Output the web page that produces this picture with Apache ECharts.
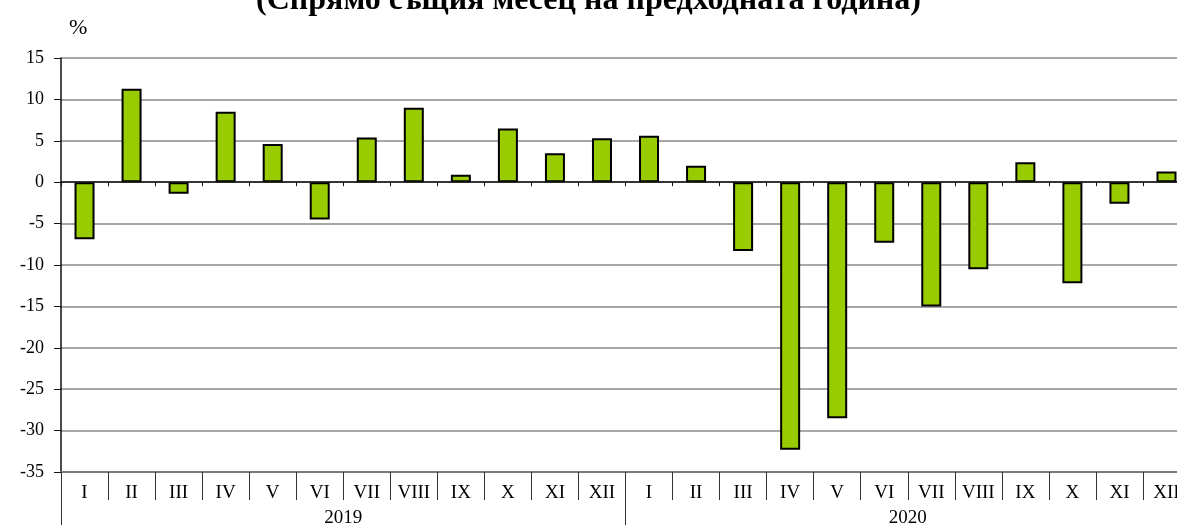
<!DOCTYPE html>
<html>
<head>
<meta charset="utf-8">
<script src="https://cdn.jsdelivr.net/npm/echarts@6/dist/echarts.min.js"></script>
<style>
html,body{margin:0;padding:0;background:#fff;}
#chart{width:1177px;height:525px;}
</style>
</head>
<body>
<div id="chart"></div>
<script>
const titleText = '(Спрямо същия месец на предходната година)';
const unitLabel = '%';
const categories = ['I','II','III','IV','V','VI','VII','VIII','IX','X','XI','XII',
                    'I','II','III','IV','V','VI','VII','VIII','IX','X','XI','XII'];
const years = ['2019', '2020'];
const values2019 = [-6.9, 11.3, -1.4, 8.5, 4.6, -4.5, 5.4, 9.0, 0.9, 6.5, 3.5, 5.3];
const values2020 = [5.6, 2.0, -8.3, -32.3, -28.5, -7.3, -15.0, -10.5, 2.4, -12.2, -2.6, 1.3];
const yMin = -35, yMax = 15, yStep = 5;

const values = values2019.concat(values2020);
const serif = '"Liberation Serif", "Times New Roman", serif';

const chart = echarts.init(document.getElementById('chart'), null, {renderer: 'canvas'});
chart.setOption({
  animation: false,
  backgroundColor: '#fff',
  title: {
    text: titleText,
    left: 'center',
    top: -20,
    textStyle: {fontFamily: serif, fontSize: 32, fontWeight: 'bold', color: '#000', lineHeight: 32}
  },
  graphic: [{
    type: 'text',
    left: 69,
    top: 17,
    style: {text: unitLabel, font: '22px ' + serif, fill: '#000'}
  }],
  grid: {left: 61, top: 58, width: 1129, height: 414, containLabel: false, outerBoundsMode: 'none'},
  xAxis: [
    {
      type: 'category', data: categories, position: 'bottom',
      axisLine: {show: true, onZero: true, lineStyle: {color: '#111', width: 1.5}},
      axisTick: {show: true, interval: 0, length: 4, lineStyle: {color: '#111', width: 1}},
      axisLabel: {show: false},
      splitLine: {show: false}, z: 5
    },
    {
      type: 'category', data: categories, position: 'bottom',
      axisLine: {show: true, onZero: false, lineStyle: {color: '#7a7a7a', width: 2}},
      axisTick: {show: true, interval: 0, length: 28, lineStyle: {color: '#333', width: 1}},
      axisLabel: {show: true, interval: 0, margin: 12, hideOverlap: false,
                  fontFamily: serif, fontSize: 19, color: '#000'},
      splitLine: {show: false}
    },
    {
      type: 'category', data: years, position: 'bottom',
      axisLine: {show: false, onZero: false},
      axisTick: {show: true, interval: 0, length: 54, lineStyle: {color: '#333', width: 1}},
      axisLabel: {show: true, interval: 0, margin: 37,
                  fontFamily: serif, fontSize: 19, color: '#000'},
      splitLine: {show: false}
    }
  ],
  yAxis: {
    type: 'value', min: yMin, max: yMax, interval: yStep,
    axisLine: {show: true, onZero: false, lineStyle: {color: '#111', width: 1.5}},
    axisTick: {show: true, length: 7, lineStyle: {color: '#111', width: 1}},
    axisLabel: {margin: 17, fontFamily: serif, fontSize: 18, color: '#000'},
    splitLine: {show: true, lineStyle: {color: '#8a8a8a', width: 1.5}}
  },
  series: [{
    type: 'bar',
    data: values,
    xAxisIndex: 0,
    barWidth: 20,
    itemStyle: {color: '#99CC00', borderColor: '#000', borderWidth: 2},
    z: 3
  }]
});
</script>
</body>
</html>
